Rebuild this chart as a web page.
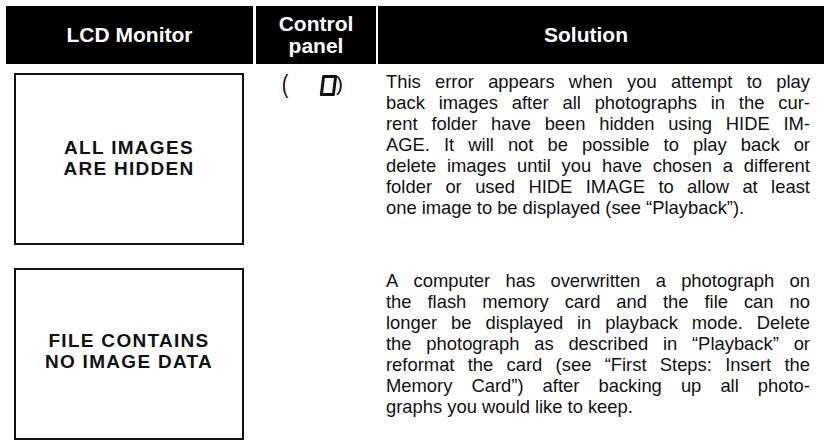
<!DOCTYPE html>
<html>
<head>
<meta charset="utf-8">
<script src="https://cdn.jsdelivr.net/npm/chart.js@4.4.1/dist/chart.umd.min.js"></script>
<style>
  html, body { margin: 0; padding: 0; background: #fff; }
  body { width: 824px; height: 441px; position: relative; overflow: hidden;
         font-family: "Liberation Sans", Arial, sans-serif; color: #111; }
  .hd { position: absolute; top: 6px; height: 58px; background: #000; color: #fff;
        font-weight: bold; font-size: 21px; display: flex; align-items: center;
        justify-content: center; text-align: center; line-height: 22px; }
  .lcd { position: absolute; left: 14px; width: 226px; height: 168px;
         border: 2px solid #111; }
  .lcdtxt { position: absolute; left: 0; right: 0; text-align: center; font-weight: bold;
            font-size: 19px; line-height: 21px; letter-spacing: 1.3px; }
  .sol { position: absolute; left: 386px; width: 424px; font-size: 18.4px; line-height: 21px; }
  .ln { display: flex; justify-content: space-between; white-space: nowrap; }
  .ln.last { justify-content: flex-start; gap: 5px; }
  .panel { position: absolute; }
  .seg { position: absolute; width: 9px; height: 15px; border: 3.5px solid #111;
         border-radius: 1px; transform: skewX(-7deg); color: transparent;
         font-size: 10px; line-height: 15px; overflow: hidden; }
</style>
</head>
<body>
<div id="app"></div>
<script>
const headers = ["LCD Monitor", "Control\npanel", "Solution"];
const lcdMessages = [
  ["ALL IMAGES", "ARE HIDDEN"],
  ["FILE CONTAINS", "NO IMAGE DATA"]
];
const panelCodes = ["0", ""];
const solutions = [
  [
    "This error appears when you attempt to play",
    "back images after all photographs in the cur-",
    "rent folder have been hidden using HIDE IM-",
    "AGE.  It will not be possible to play back or",
    "delete images until you have chosen a different",
    "folder or used HIDE IMAGE to allow at least",
    "one image to be displayed (see \u201cPlayback\u201d)."
  ],
  [
    "A computer has overwritten a photograph on",
    "the flash memory card and the file can no",
    "longer be displayed in playback mode.  Delete",
    "the photograph as described in \u201cPlayback\u201d or",
    "reformat the card (see \u201cFirst Steps: Insert the",
    "Memory Card\u201d) after backing up all photo-",
    "graphs you would like to keep."
  ]
];

const app = document.getElementById('app');

// header bars: left, width, right padding
const cols = [[6, 247, 0], [256, 120, 0], [378, 446, 30]];
headers.forEach((h, i) => {
  const d = document.createElement('div');
  d.className = 'hd';
  d.style.left = cols[i][0] + 'px';
  d.style.width = (cols[i][1] - cols[i][2]) + 'px';
  d.style.paddingRight = cols[i][2] + 'px';
  d.innerHTML = h.split('\n').join('<br>');
  app.appendChild(d);
});

const rowTop = [73, 268];
const txtTop = [62, 60];
const solTop = [71, 270];

lcdMessages.forEach((m, i) => {
  const box = document.createElement('div');
  box.className = 'lcd';
  box.style.top = rowTop[i] + 'px';
  const t = document.createElement('div');
  t.className = 'lcdtxt';
  t.style.top = txtTop[i] + 'px';
  t.innerHTML = m.join('<br>');
  box.appendChild(t);
  app.appendChild(box);
});

// control panel indicator: ( 0 )
panelCodes.forEach((c, i) => {
  if (!c) return;
  const br = document.createElement('div');
  br.className = 'panel';
  br.style.cssText = 'left:281px;top:' + (rowTop[i] - 3) + 'px;font-size:25px;line-height:28px;font-weight:300;transform:scaleX(0.8)';
  br.textContent = '(';
  app.appendChild(br);
  const dg = document.createElement('div');
  dg.className = 'seg';
  dg.style.left = '321px';
  dg.style.top = (rowTop[i] + 2) + 'px';
  dg.textContent = c;
  app.appendChild(dg);
  const cl = document.createElement('div');
  cl.className = 'panel';
  cl.style.cssText = 'left:336px;top:' + (rowTop[i] - 2) + 'px;font-size:21px;line-height:26px';
  cl.textContent = ')';
  app.appendChild(cl);
});

solutions.forEach((lines, i) => {
  const s = document.createElement('div');
  s.className = 'sol';
  s.style.top = solTop[i] + 'px';
  lines.forEach((l, j) => {
    const ln = document.createElement('div');
    ln.className = 'ln' + (j === lines.length - 1 ? ' last' : '');
    l.split(/ +/).forEach(w => {
      const sp = document.createElement('span');
      sp.textContent = w;
      ln.appendChild(sp);
    });
    s.appendChild(ln);
  });
  app.appendChild(s);
});
</script>
</body>
</html>
